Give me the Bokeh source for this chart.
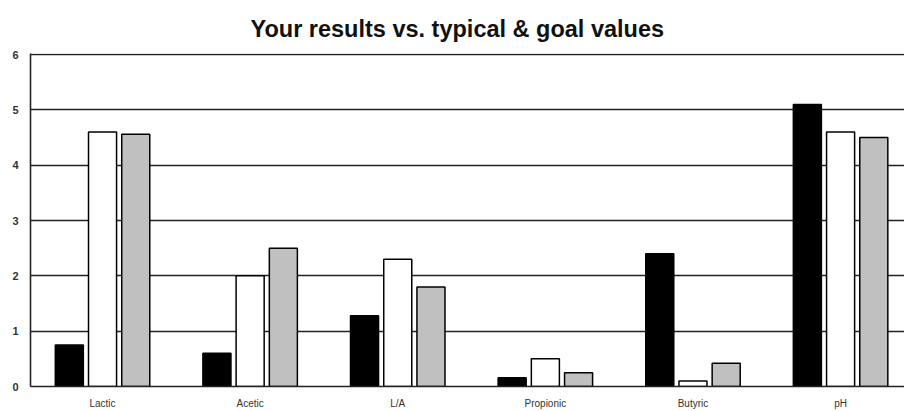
from bokeh.plotting import figure
from bokeh.models import Range1d, FixedTicker, ColumnDataSource
from bokeh.transform import dodge
from bokeh.embed import file_html
from bokeh.resources import INLINE

categories = ["Lactic", "Acetic", "L/A", "Propionic", "Butyric", "pH"]
results = [0.75, 0.6, 1.28, 0.16, 2.4, 5.1]
typical = [4.6, 2.0, 2.3, 0.5, 0.1, 4.6]
goal = [4.56, 2.5, 1.8, 0.25, 0.42, 4.5]
y_ticks = [0, 1, 2, 3, 4, 5, 6]

xpos = [i + 0.5 for i in range(len(categories))]
src = ColumnDataSource(dict(x=xpos, results=results, typical=typical, goal=goal))

p = figure(width=904, height=411, x_range=Range1d(0.012, 5.933), y_range=Range1d(0, 6.02),
           output_backend="svg", toolbar_location=None,
           title="Your results vs. typical & goal values",
           min_border_left=30, min_border_right=0, min_border_top=53, min_border_bottom=25)

p.title.align = "left"
p.title.offset = 220
p.title.vertical_align = "top"
p.title.text_font = "Liberation Sans"
p.title.text_font_size = "23.5px"
p.title.text_font_style = "bold"
p.title.text_color = "#111111"
p.title.standoff = 20

p.outline_line_color = None
p.background_fill_color = "white"
p.border_fill_color = "white"

p.xgrid.grid_line_color = None
p.ygrid.ticker = FixedTicker(ticks=y_ticks)
p.ygrid.grid_line_color = "#222222"
p.ygrid.grid_line_width = 1.6

for ax in (p.xaxis, p.yaxis):
    ax.major_tick_out = 0
    ax.major_tick_in = 0
    ax.minor_tick_out = 0
    ax.minor_tick_in = 0
    ax.major_tick_line_color = None
    ax.minor_tick_line_color = None
    ax.axis_line_color = "#222222"
    ax.axis_line_width = 1.6
    ax.major_label_text_font = "Liberation Sans"
    ax.major_label_text_color = "#333333"

p.yaxis.ticker = FixedTicker(ticks=y_ticks)
p.yaxis.major_label_standoff = 12
p.yaxis.major_label_text_font_size = "11px"
p.yaxis.major_label_text_font_style = "bold"

p.xaxis.ticker = FixedTicker(ticks=xpos)
p.xaxis.major_label_overrides = {x: c for x, c in zip(xpos, categories)}
p.xaxis.major_label_standoff = 11
p.xaxis.major_label_text_font_size = "10px"

w = 0.19
off = 0.225
p.vbar(x=dodge("x", -off, range=p.x_range), top="results", width=w, bottom=0, source=src,
       fill_color="black", line_color="black", line_width=1.5)
p.vbar(x=dodge("x", 0, range=p.x_range), top="typical", width=w, bottom=0, source=src,
       fill_color="white", line_color="black", line_width=1.5)
p.vbar(x=dodge("x", off, range=p.x_range), top="goal", width=w, bottom=0, source=src,
       fill_color="#c0c0c0", line_color="black", line_width=1.5)

open("out.html", "w").write(file_html(p, INLINE))
